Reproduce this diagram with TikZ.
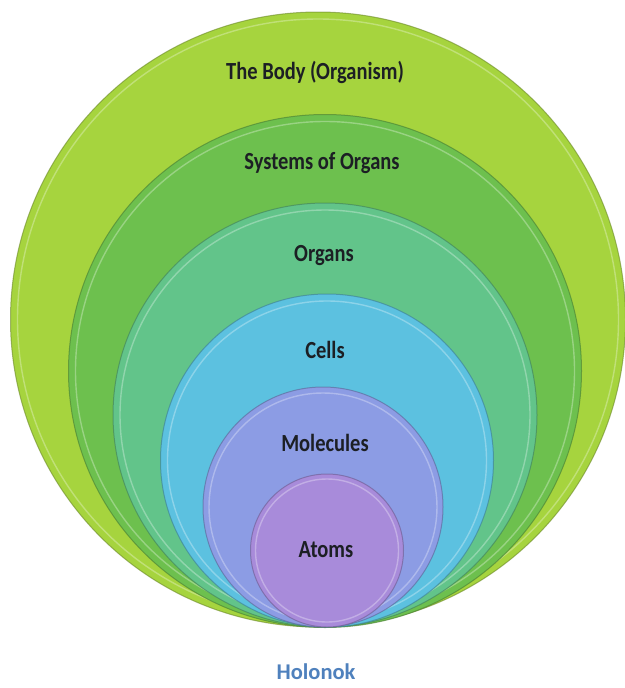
\documentclass[tikz,border=0pt]{standalone}
\usepackage{fontspec}
\setmainfont{Carlito}
\definecolor{cBody}{HTML}{A6D43E}
\definecolor{cSys}{HTML}{6DC04E}
\definecolor{cOrg}{HTML}{62C48A}
\definecolor{cCell}{HTML}{5CC1E0}
\definecolor{cMol}{HTML}{8C9CE4}
\definecolor{cAtom}{HTML}{A88BDA}
\definecolor{capblue}{HTML}{4F81BD}
\definecolor{labeltext}{HTML}{1C1F24}
\begin{document}
\begin{tikzpicture}[x=1pt,y=-1pt,
  disc/.style 2 args={circle, inner sep=0pt, minimum size=#1, fill=#2, draw=#2!65!black, draw opacity=0.6, line width=1pt},
  rim/.style={circle, inner sep=0pt, minimum size=#1, draw=white, draw opacity=0.3, line width=1.4pt},
  lbl/.style={font=\bfseries\fontsize{20.5}{24}\selectfont, text=labeltext, inner sep=0pt}]
\useasboundingbox (0,0) rectangle (624,688);
\fill[white] (0,0) rectangle (624,688);
% discs
\node[disc={615}{cBody}] (body) at (318,319.5) {};
\node[rim=601] (bodyrim) at (318,319.5) {};
\node[disc={513}{cSys}] (sys) at (325,371) {};
\node[rim=499] (sysrim) at (325,371) {};
\node[disc={424}{cOrg}] (org) at (325,415) {};
\node[rim=410] (orgrim) at (325,415) {};
\node[disc={333}{cCell}] (cell) at (327,460.5) {};
\node[rim=319] (cellrim) at (327,460.5) {};
\node[disc={240}{cMol}] (mol) at (323,507) {};
\node[rim=228] (molrim) at (323,507) {};
\node[disc={153}{cAtom}] (atom) at (327,550.5) {};
\node[rim=143] (atomrim) at (327,550.5) {};
% labels
\node[lbl] (tbody) at (315,72) {\scalebox{1}[1.2]{The Body (Organism)}};
\node[lbl] (tsys) at (322,163) {\scalebox{1}[1.2]{Systems of Organs}};
\node[lbl] (torg) at (324,256) {\scalebox{1}[1.2]{Organs}};
\node[lbl] (tcell) at (325,350) {\scalebox{1}[1.2]{Cells}};
\node[lbl] (tmol) at (325,443) {\scalebox{1}[1.2]{Molecules}};
\node[lbl] (tatom) at (326,550) {\scalebox{1}[1.2]{Atoms}};
% caption
\node[font=\bfseries\fontsize{22.5}{26}\selectfont, text=capblue, inner sep=0pt] (cap) at (316,672) {Holonok};
\end{tikzpicture}
\end{document}
